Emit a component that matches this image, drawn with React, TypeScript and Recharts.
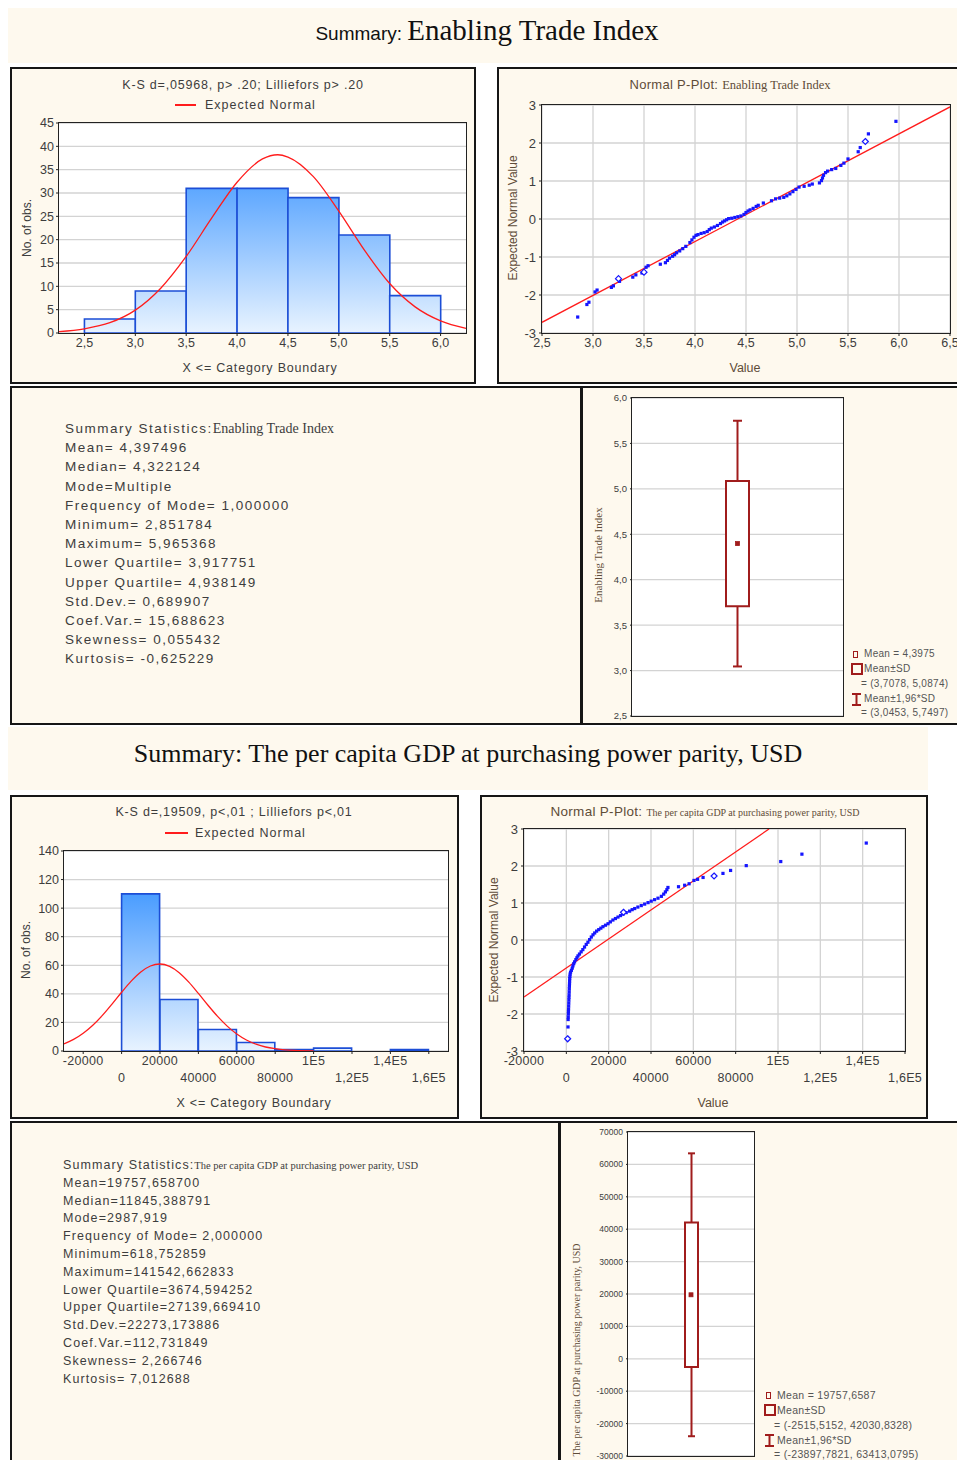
import React from 'react';
import { ComposedChart, Bar, Line, Scatter, XAxis, YAxis, CartesianGrid } from 'recharts';

// ---------- Enabling Trade Index ----------
const etiBinStart = [2.5, 3.0, 3.5, 4.0, 4.5, 5.0, 5.5];
const etiBinEnd = [3.0, 3.5, 4.0, 4.5, 5.0, 5.5, 6.0];
const etiBinCount = [3, 9, 31, 31, 29, 21, 8];
const etiCurveX = [2.25, 2.5, 2.75, 3.0, 3.25, 3.5, 3.75, 4.0, 4.25, 4.4, 4.5, 4.75, 5.0, 5.25, 5.5, 5.75, 6.0, 6.25];
const etiCurveY = [0.3, 0.9, 2.2, 4.9, 9.6, 16.4, 24.6, 32.3, 37.3, 38.2, 37.7, 33.5, 26.1, 17.8, 10.6, 5.6, 2.6, 1.0];
const etiHistXTicks = [2.5, 3.0, 3.5, 4.0, 4.5, 5.0, 5.5, 6.0];
const etiHistYTicks = [0, 5, 10, 15, 20, 25, 30, 35, 40, 45];

const etiPpX = [2.85, 2.94, 2.96, 3.02, 3.04, 3.18, 3.2, 3.26, 3.39, 3.42, 3.48, 3.52, 3.54, 3.66, 3.71, 3.73, 3.75, 3.78,
  3.8, 3.82, 3.85, 3.88, 3.91, 3.95, 3.97, 3.99, 4.01, 4.03, 4.06, 4.09, 4.12, 4.14, 4.16, 4.19, 4.22, 4.25, 4.27, 4.29,
  4.31, 4.33, 4.36, 4.39, 4.42, 4.45, 4.48, 4.5, 4.52, 4.54, 4.57, 4.6, 4.62, 4.67, 4.75, 4.79, 4.83, 4.87, 4.9, 4.93,
  4.96, 4.99, 5.02, 5.07, 5.12, 5.15, 5.22, 5.24, 5.25, 5.26, 5.28, 5.3, 5.34, 5.38, 5.43, 5.46, 5.5, 5.6, 5.62, 5.7, 5.97];
const etiPpY = [-2.58, -2.25, -2.19, -1.92, -1.87, -1.8, -1.76, -1.64, -1.53, -1.47, -1.42, -1.27, -1.23, -1.19, -1.15, -1.09, -1.03, -0.98,
  -0.94, -0.89, -0.84, -0.78, -0.72, -0.62, -0.55, -0.48, -0.43, -0.41, -0.38, -0.36, -0.33, -0.28, -0.24, -0.21, -0.17, -0.12, -0.08, -0.05,
  -0.02, 0.01, 0.02, 0.04, 0.06, 0.08, 0.12, 0.17, 0.21, 0.24, 0.28, 0.33, 0.36, 0.42, 0.48, 0.53, 0.55, 0.57, 0.61, 0.66,
  0.72, 0.78, 0.84, 0.86, 0.89, 0.92, 0.95, 1.01, 1.08, 1.15, 1.22, 1.26, 1.3, 1.33, 1.41, 1.47, 1.58, 1.77, 1.88, 2.24, 2.57];
const etiPpHollowX = [3.25, 3.5, 5.67];
const etiPpHollowY = [-1.57, -1.4, 2.04];
const etiLineX = [2.5, 6.5];
const etiLineY = [-2.72, 2.95];
const etiPpXTicks = [2.5, 3.0, 3.5, 4.0, 4.5, 5.0, 5.5, 6.0, 6.5];
const zTicks = [-3, -2, -1, 0, 1, 2, 3];

const etiMean = 4.3975;
const etiSdLo = 3.7078;
const etiSdHi = 5.0874;
const etiCiLo = 3.0453;
const etiCiHi = 5.7497;
const etiBoxTicks = [2.5, 3.0, 3.5, 4.0, 4.5, 5.0, 5.5, 6.0];

const etiStats = ['Mean= 4,397496', 'Median= 4,322124', 'Mode=Multiple', 'Frequency of Mode= 1,000000',
  'Minimum= 2,851784', 'Maximum= 5,965368', 'Lower Quartile= 3,917751', 'Upper Quartile= 4,938149',
  'Std.Dev.= 0,689907', 'Coef.Var.= 15,688623', 'Skewness= 0,055432', 'Kurtosis= -0,625229'];

// ---------- GDP per capita, PPP ----------
const gdpBinStart = [0, 20000, 40000, 60000, 80000, 100000, 120000, 140000];
const gdpBinEnd = [20000, 40000, 60000, 80000, 100000, 120000, 140000, 160000];
const gdpBinCount = [110, 36, 15, 6, 1, 2, 0, 1];
const gdpCurveX = [-30000, -25000, -20000, -15000, -10000, -5000, 0, 5000, 10000, 15000, 20000, 25000, 30000, 35000,
  40000, 45000, 50000, 55000, 60000, 65000, 70000, 75000, 80000, 85000, 90000, 100000];
const gdpCurveY = [5.0, 8.1, 12.4, 18.0, 24.9, 32.8, 41.1, 48.9, 55.3, 59.5, 60.9, 59.2, 54.8, 48.2,
  40.3, 32.0, 24.2, 17.4, 11.9, 7.7, 4.8, 2.8, 1.6, 0.8, 0.4, 0.1];
const gdpXTicks = [-20000, 0, 20000, 40000, 60000, 80000, 100000, 120000, 140000, 160000];
const gdpHistYTicks = [0, 20, 40, 60, 80, 100, 120, 140];

const gdpPpX = [800, 850, 900, 950, 1000, 1050, 1100, 1150, 1200, 1250, 1300, 1350, 1400, 1450, 1500, 1550, 1600, 1700,
  1800, 2000, 2400, 2800, 3100, 3500, 3900, 4500, 5000, 5500, 6200, 7000, 7800, 8600, 9400, 10200, 11000, 11800,
  12600, 13400, 14300, 15300, 16300, 17300, 18500, 19700, 20800, 22000, 23200, 24400, 25600, 26800, 28300, 29900,
  31100, 32300, 33800, 35400, 37000, 38600, 40100, 41700, 43300, 44900, 46000, 46800, 47500, 48000, 53000, 55900,
  58000, 60300, 62000, 64600, 74000, 77600, 85000, 101300, 111300, 141700];
const gdpPpY = [-2.35, -2.15, -2.08, -2.0, -1.93, -1.86, -1.78, -1.7, -1.62, -1.55, -1.48, -1.4, -1.32, -1.25, -1.18, -1.11, -1.04, -0.98,
  -0.92, -0.87, -0.82, -0.76, -0.7, -0.64, -0.59, -0.53, -0.48, -0.43, -0.38, -0.32, -0.26, -0.19, -0.12, -0.06, 0.01, 0.08,
  0.14, 0.19, 0.24, 0.28, 0.32, 0.36, 0.4, 0.44, 0.49, 0.54, 0.58, 0.62, 0.66, 0.7, 0.74, 0.78,
  0.82, 0.85, 0.89, 0.93, 0.97, 1.01, 1.05, 1.09, 1.13, 1.18, 1.24, 1.3, 1.36, 1.42, 1.44, 1.48,
  1.52, 1.61, 1.64, 1.69, 1.8, 1.88, 2.01, 2.12, 2.32, 2.62];
const gdpPpHollowX = [618, 27000, 69800];
const gdpPpHollowY = [-2.67, 0.75, 1.73];
const gdpLineX = [-20000, 95750];
const gdpLineY = [-1.54, 3.0];

const gdpMean = 19757.6587;
const gdpSdLo = -2515.5152;
const gdpSdHi = 42030.8328;
const gdpCiLo = -23897.7821;
const gdpCiHi = 63413.0795;
const gdpBoxTicks = [-30000, -20000, -10000, 0, 10000, 20000, 30000, 40000, 50000, 60000, 70000];

const gdpStats = ['Mean=19757,658700', 'Median=11845,388791', 'Mode=2987,919', 'Frequency of Mode= 2,000000',
  'Minimum=618,752859', 'Maximum=141542,662833', 'Lower Quartile=3674,594252', 'Upper Quartile=27139,669410',
  'Std.Dev.=22273,173886', 'Coef.Var.=112,731849', 'Skewness= 2,266746', 'Kurtosis= 7,012688'];

// ---------- styles ----------
const CREAM = '#fef9ee';
const SANS = '"Liberation Sans", Arial, sans-serif';
const SERIF = '"Liberation Serif", "Times New Roman", serif';
const NARROW = '"Liberation Sans Narrow", "Liberation Sans", sans-serif';
const TXT = '#3d3d3d';
const BROWN = '#5e4c38';
const RED = '#a01c1c';
const GRID = '#d3d3d3';
const ML = 60, MT = 10, MR = 20, XH = 50;

type Plot = { L: number; T: number; W: number; H: number };

const comma = (v: number, d: number) => v.toFixed(d).replace('.', ',');
const fmt1 = (v: number) => comma(v, 1);
const fmtGdp = (v: number) => {
  if (Math.abs(v) >= 100000) {
    const m = v / 100000;
    return (Number.isInteger(m) ? String(m) : comma(m, 1)) + 'E5';
  }
  return String(v);
};

function Txt({ x, y, size = 12, family = SANS, color = TXT, anchor = 'middle', rotate = false, spacing = 0, children }: any) {
  const tx = anchor === 'middle' ? '-50%' : anchor === 'end' ? '-100%' : '0';
  return (
    <div style={{
      position: 'absolute', left: x, top: y, whiteSpace: 'nowrap', lineHeight: 1,
      fontSize: size, fontFamily: family, color, letterSpacing: spacing,
      transform: `translate(${tx}, -50%)${rotate ? ' rotate(-90deg)' : ''}`,
    }}>{children}</div>
  );
}

function Panel({ l, t, w, h, border = true }: any) {
  return (
    <div style={{
      position: 'absolute', left: l, top: t, width: w, height: h, background: CREAM,
      border: border ? '2px solid #161616' : 'none', boxSizing: 'border-box',
    }} />
  );
}

function Frame({ plot }: { plot: Plot }) {
  return (
    <div style={{
      position: 'absolute', left: plot.L - 1, top: plot.T - 1, width: plot.W + 2, height: plot.H + 2,
      border: '1.5px solid #222', boxSizing: 'border-box', pointerEvents: 'none',
    }} />
  );
}

const StaggerTick = (p: any) => (
  <text x={p.x} y={p.y + (p.index % 2 ? 17 : 0)} dy="0.71em" textAnchor="middle" fontSize={12.5} fill={TXT}
    fontFamily={SANS} letterSpacing={0.3}>
    {fmtGdp(p.payload.value)}
  </text>
);

const tickStyle = { fontSize: 12.5, fill: TXT, fontFamily: SANS };

function Histogram({ plot, starts, ends, counts, curveX, curveY, xDomain, xTicks, yDomain, yTicks, stagger, gradId }: any) {
  const bins = starts.map((s: number, i: number) => ({ mid: (s + ends[i]) / 2, count: counts[i] }));
  const curve = curveX.map((x: number, i: number) => ({ x, y: curveY[i] }));
  return (
    <>
      <div style={{ position: 'absolute', left: plot.L - ML, top: plot.T - MT }}>
        <ComposedChart width={plot.W + ML + MR} height={plot.H + MT + XH} data={bins}
          margin={{ top: MT, right: MR, bottom: 0, left: 0 }} barCategoryGap={0} barGap={0}>
          <defs>
            <linearGradient id={gradId} gradientUnits="userSpaceOnUse" x1="0" y1={MT} x2="0" y2={MT + plot.H}>
              <stop offset="0" stopColor="#1f85ff" />
              <stop offset="1" stopColor="#e8f3ff" />
            </linearGradient>
          </defs>
          <CartesianGrid xAxisId="curve" vertical={false} stroke={GRID} strokeWidth={1.3} fill="#fff" />
          <XAxis xAxisId="curve" dataKey="x" type="number" domain={xDomain} ticks={xTicks} interval={0}
            axisLine={false} tickLine={{ stroke: '#222' }} tickSize={3} tickMargin={2} height={XH}
            tick={stagger ? StaggerTick : tickStyle} tickFormatter={stagger ? undefined : fmt1} />
          <XAxis xAxisId="bins" dataKey="mid" type="number" domain={xDomain} hide height={0} />
          <YAxis type="number" domain={yDomain} ticks={yTicks} interval={0} width={ML} axisLine={false}
            tickLine={{ stroke: '#222' }} tickSize={3} tickMargin={2} tick={tickStyle} />
          <Bar xAxisId="bins" dataKey="count" fill={`url(#${gradId})`} stroke="#1c4ed6" strokeWidth={1.6}
            isAnimationActive={false} />
          <Line xAxisId="curve" data={curve} dataKey="y" type="monotone" stroke="#ff1c1c" strokeWidth={1.3}
            dot={false} isAnimationActive={false} />
        </ComposedChart>
      </div>
      <Frame plot={plot} />
    </>
  );
}

const Dot = (p: any) => <rect x={p.cx - 1.6} y={p.cy - 1.6} width={3.2} height={3.2} fill="#1515ff" />;
const Hollow = (p: any) => (
  <path d={`M${p.cx},${p.cy - 3}L${p.cx + 3},${p.cy}L${p.cx},${p.cy + 3}L${p.cx - 3},${p.cy}Z`} fill="#fff" stroke="#1515ff" strokeWidth={1.2} />
);

function PPlot({ plot, ptsX, ptsY, hX, hY, lineX, lineY, xDomain, xTicks, stagger }: any) {
  const pts = ptsX.map((x: number, i: number) => ({ x, y: ptsY[i] }));
  const hollow = hX.map((x: number, i: number) => ({ x, y: hY[i] }));
  const line = lineX.map((x: number, i: number) => ({ x, y: lineY[i] }));
  return (
    <>
      <div style={{ position: 'absolute', left: plot.L - ML, top: plot.T - MT }}>
        <ComposedChart width={plot.W + ML + MR} height={plot.H + MT + XH} margin={{ top: MT, right: MR, bottom: 0, left: 0 }}>
          <CartesianGrid stroke={GRID} strokeWidth={1.3} fill="#fff" />
          <XAxis dataKey="x" type="number" domain={xDomain} ticks={xTicks} interval={0} allowDataOverflow
            axisLine={false} tickLine={{ stroke: '#222' }} tickSize={3} tickMargin={2} height={XH}
            tick={stagger ? StaggerTick : tickStyle} tickFormatter={stagger ? undefined : fmt1} />
          <YAxis dataKey="y" type="number" domain={[-3, 3]} ticks={zTicks} interval={0} width={ML} allowDataOverflow
            axisLine={false} tickLine={{ stroke: '#222' }} tickSize={3} tickMargin={3} tick={{ ...tickStyle, fontSize: 13 }} />
          <Line data={line} dataKey="y" type="linear" stroke="#ff1c1c" strokeWidth={1.3} dot={false} isAnimationActive={false} />
          <Scatter data={pts} dataKey="y" shape={Dot} isAnimationActive={false} />
          <Scatter data={hollow} dataKey="y" shape={Hollow} isAnimationActive={false} />
        </ComposedChart>
      </div>
      <Frame plot={plot} />
    </>
  );
}

const Whisker = (p: any) => {
  const cx = p.x + p.width / 2;
  return (
    <g stroke={RED} strokeWidth={2}>
      <line x1={cx} x2={cx} y1={p.y} y2={p.y + p.height} />
      <line x1={p.x} x2={p.x + p.width} y1={p.y} y2={p.y} />
      <line x1={p.x} x2={p.x + p.width} y1={p.y + p.height} y2={p.y + p.height} />
    </g>
  );
};
const MeanMark = (p: any) => <rect x={p.cx - 2} y={p.cy - 2} width={4} height={4} fill={RED} stroke={RED} strokeWidth={0.8} />;

function BoxPlot({ plot, name, mean, sdLo, sdHi, ciLo, ciHi, yDomain, yTicks, yFmt, boxW, capW, fontSize }: any) {
  const data = [{ name, box: [sdLo, sdHi], whisker: [ciLo, ciHi], mean }];
  return (
    <>
      <div style={{ position: 'absolute', left: plot.L - ML, top: plot.T - MT }}>
        <ComposedChart width={plot.W + ML + MR} height={plot.H + MT + 10} data={data}
          margin={{ top: MT, right: MR, bottom: 10, left: 0 }}>
          <CartesianGrid xAxisId="w" vertical={false} stroke={GRID} strokeWidth={1.3} fill="#fff" />
          <XAxis xAxisId="w" dataKey="name" type="category" hide height={0} />
          <XAxis xAxisId="b" dataKey="name" type="category" hide height={0} />
          <YAxis type="number" domain={yDomain} ticks={yTicks} interval={0} width={ML} axisLine={false}
            tickLine={{ stroke: '#222' }} tickSize={2} tickMargin={3} tickFormatter={yFmt}
            tick={{ fontSize, fill: TXT, fontFamily: SANS }} />
          <Bar xAxisId="w" dataKey="whisker" barSize={capW} shape={Whisker} isAnimationActive={false} />
          <Bar xAxisId="b" dataKey="box" barSize={boxW} fill="#fff" stroke={RED} strokeWidth={2} isAnimationActive={false} />
          <Scatter xAxisId="b" dataKey="mean" shape={MeanMark} isAnimationActive={false} />
        </ComposedChart>
      </div>
      <Frame plot={plot} />
    </>
  );
}

function BoxLegend({ x, y, mean, sdLo, sdHi, ciLo, ciHi, d, size }: any) {
  const s = { position: 'absolute' as const };
  const c = '#555';
  return (
    <>
      <div style={{ ...s, left: x + 1, top: y - 3, width: 3, height: 5, border: `1.5px solid ${RED}` }} />
      <Txt x={x + 12} y={y} size={size} anchor="start" color={c} spacing={0.3}>Mean = {comma(mean, d)}</Txt>
      <div style={{ ...s, left: x - 1, top: y + 9, width: 12, height: 12, border: `2px solid ${RED}`, boxSizing: 'border-box' }} />
      <Txt x={x + 12} y={y + 15} size={size} anchor="start" color={c} spacing={0.3}>Mean±SD</Txt>
      <Txt x={x + 9} y={y + 30} size={size} anchor="start" color={c} spacing={0.3}>= ({comma(sdLo, 4)}, {comma(sdHi, 4)})</Txt>
      <svg style={{ ...s, left: x - 1, top: y + 39 }} width={11} height={13}>
        <g stroke={RED} strokeWidth={2}>
          <line x1={5.5} x2={5.5} y1={1} y2={12} /><line x1={1} x2={10} y1={1} y2={1} /><line x1={1} x2={10} y1={12} y2={12} />
        </g>
      </svg>
      <Txt x={x + 12} y={y + 45} size={size} anchor="start" color={c} spacing={0.3}>Mean±1,96*SD</Txt>
      <Txt x={x + 9} y={y + 59} size={size} anchor="start" color={c} spacing={0.3}>= ({comma(ciLo, 4)}, {comma(ciHi, 4)})</Txt>
    </>
  );
}

function StatsBlock({ x, y, step, size, spacing, lines, head, headSize }: any) {
  return (
    <>
      <Txt x={x} y={y} size={size} anchor="start" spacing={spacing}>
        Summary Statistics:<span style={{ fontFamily: SERIF, fontSize: headSize, letterSpacing: 0 }}>{head}</span>
      </Txt>
      {lines.map((l: string, i: number) => (
        <Txt key={i} x={x} y={y + step * (i + 1)} size={size} anchor="start" spacing={spacing}>{l}</Txt>
      ))}
    </>
  );
}

export default function App() {
  return (
    <div style={{ position: 'absolute', left: 0, top: 0, width: 957, height: 1460, overflow: 'hidden', background: '#fff' }}>
      {/* bands and panels */}
      <Panel l={8} t={8} w={960} h={55} border={false} />
      <Panel l={8} t={727} w={920} h={63} border={false} />
      <Panel l={10} t={67} w={466} h={317} />
      <Panel l={497} t={67} w={470} h={317} />
      <Panel l={10} t={386} w={572} h={339} />
      <Panel l={581} t={386} w={390} h={339} />
      <Panel l={10} t={795} w={449} h={324} />
      <Panel l={480} t={795} w={448} h={324} />
      <Panel l={10} t={1121} w={550} h={345} />
      <Panel l={559} t={1121} w={410} h={345} />

      {/* titles */}
      <Txt x={487} y={30} size={29} family={SERIF} color="#111">
        <span style={{ fontFamily: NARROW, fontSize: 19 }}>Summary: </span>Enabling Trade Index
      </Txt>
      <Txt x={468} y={754} size={26} family={SERIF} color="#111">
        Summary: The per capita GDP at purchasing power parity, USD
      </Txt>

      {/* ETI histogram */}
      <Txt x={243} y={85} size={12.5} spacing={0.8}>K-S d=,05968, p&gt; .20; Lilliefors p&gt; .20</Txt>
      <div style={{ position: 'absolute', left: 175, top: 104, width: 21, height: 2, background: '#ff1c1c' }} />
      <Txt x={205} y={105} size={12.5} anchor="start" spacing={1}>Expected Normal</Txt>
      <Txt x={27} y={228} size={12} rotate>No. of obs.</Txt>
      <Txt x={260} y={368} size={12.5} spacing={0.8}>X &lt;= Category Boundary</Txt>
      <Histogram plot={{ L: 59, T: 123, W: 407, H: 210 }} starts={etiBinStart} ends={etiBinEnd} counts={etiBinCount}
        curveX={etiCurveX} curveY={etiCurveY} xDomain={[2.25, 6.25]} xTicks={etiHistXTicks}
        yDomain={[0, 45]} yTicks={etiHistYTicks} stagger={false} gradId="gEti" />

      {/* ETI P-plot */}
      <Txt x={730} y={85} size={13} color={BROWN} spacing={0.3}>
        Normal P-Plot: <span style={{ fontFamily: SERIF, fontSize: 12.5, letterSpacing: 0 }}>Enabling Trade Index</span>
      </Txt>
      <Txt x={513} y={218} size={12} color={BROWN} rotate>Expected Normal Value</Txt>
      <Txt x={745} y={368} size={12.5} color={BROWN}>Value</Txt>
      <PPlot plot={{ L: 542, T: 105, W: 408, H: 228 }} ptsX={etiPpX} ptsY={etiPpY} hX={etiPpHollowX} hY={etiPpHollowY}
        lineX={etiLineX} lineY={etiLineY} xDomain={[2.5, 6.5]} xTicks={etiPpXTicks} stagger={false} />

      {/* ETI stats */}
      <StatsBlock x={65} y={429} step={19.2} size={13.5} spacing={1.5} lines={etiStats} head="Enabling Trade Index" headSize={14} />

      {/* ETI box */}
      <Txt x={598} y={555} size={11} family={SERIF} color={BROWN} rotate>Enabling Trade Index</Txt>
      <BoxPlot plot={{ L: 632, T: 398, W: 211, H: 318 }} name="ETI" mean={etiMean} sdLo={etiSdLo} sdHi={etiSdHi}
        ciLo={etiCiLo} ciHi={etiCiHi} yDomain={[2.5, 6.0]} yTicks={etiBoxTicks} yFmt={fmt1} boxW={23} capW={9} fontSize={9.5} />
      <BoxLegend x={852} y={654} mean={etiMean} sdLo={etiSdLo} sdHi={etiSdHi} ciLo={etiCiLo} ciHi={etiCiHi} d={4} size={10} />

      {/* GDP histogram */}
      <Txt x={234} y={812} size={12.5} spacing={0.8}>K-S d=,19509, p&lt;,01 ; Lilliefors p&lt;,01</Txt>
      <div style={{ position: 'absolute', left: 165, top: 832, width: 23, height: 2, background: '#ff1c1c' }} />
      <Txt x={195} y={833} size={12.5} anchor="start" spacing={1}>Expected Normal</Txt>
      <Txt x={26} y={950} size={12} rotate>No. of obs.</Txt>
      <Txt x={254} y={1103} size={12.5} spacing={0.8}>X &lt;= Category Boundary</Txt>
      <Histogram plot={{ L: 64, T: 851, W: 384, H: 200 }} starts={gdpBinStart} ends={gdpBinEnd} counts={gdpBinCount}
        curveX={gdpCurveX} curveY={gdpCurveY} xDomain={[-30000, 170000]} xTicks={gdpXTicks}
        yDomain={[0, 140]} yTicks={gdpHistYTicks} stagger gradId="gGdp" />

      {/* GDP P-plot */}
      <Txt x={705} y={812} size={13.5} color={BROWN} spacing={0.3}>
        Normal P-Plot: <span style={{ fontFamily: SERIF, fontSize: 10, letterSpacing: 0 }}>The per capita GDP at purchasing power parity, USD</span>
      </Txt>
      <Txt x={494} y={940} size={12} color={BROWN} rotate>Expected Normal Value</Txt>
      <Txt x={713} y={1103} size={12.5} color={BROWN}>Value</Txt>
      <PPlot plot={{ L: 524, T: 829, W: 381, H: 222 }} ptsX={gdpPpX} ptsY={gdpPpY} hX={gdpPpHollowX} hY={gdpPpHollowY}
        lineX={gdpLineX} lineY={gdpLineY} xDomain={[-20000, 160000]} xTicks={gdpXTicks} stagger />

      {/* GDP stats */}
      <StatsBlock x={63} y={1165} step={17.8} size={12.5} spacing={1.1} lines={gdpStats}
        head="The per capita GDP at purchasing power parity, USD" headSize={10.5} />

      {/* GDP box */}
      <Txt x={577} y={1350} size={10} family={SERIF} color={BROWN} rotate>The per capita GDP at purchasing power parity, USD</Txt>
      <BoxPlot plot={{ L: 628, T: 1132, W: 126, H: 324 }} name="GDP" mean={gdpMean} sdLo={gdpSdLo} sdHi={gdpSdHi}
        ciLo={gdpCiLo} ciHi={gdpCiHi} yDomain={[-30000, 70000]} yTicks={gdpBoxTicks} yFmt={(v: number) => String(v)}
        boxW={13} capW={7} fontSize={8.5} />
      <BoxLegend x={765} y={1395} mean={gdpMean} sdLo={gdpSdLo} sdHi={gdpSdHi} ciLo={gdpCiLo} ciHi={gdpCiHi} d={4} size={10.5} />
    </div>
  );
}
